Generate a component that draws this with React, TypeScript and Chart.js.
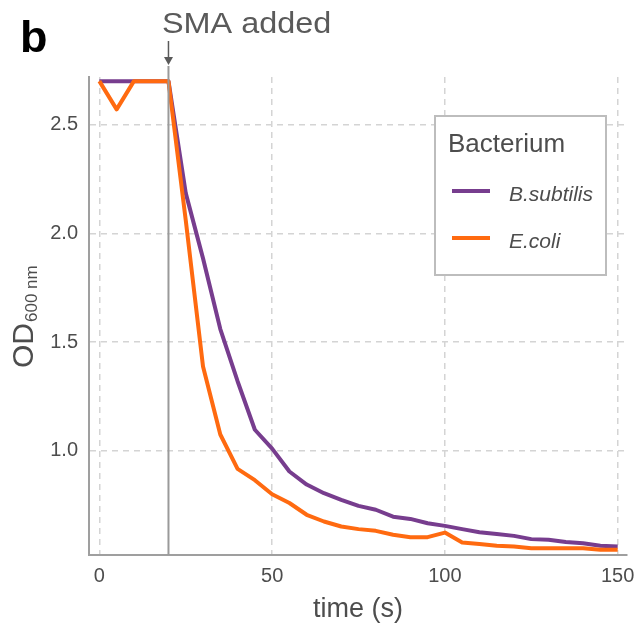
import React, { useEffect, useRef } from "react";
import { Chart, registerables } from "chart.js";

Chart.register(...registerables);

const times = [0, 5, 10, 15, 20, 25, 30, 35, 40, 45, 50, 55, 60, 65, 70, 75, 80, 85, 90, 95, 100, 105, 110, 115, 120, 125, 130, 135, 140, 145, 150];
const bSubtilis = [2.7, 2.7, 2.7, 2.7, 2.7, 2.185, 1.885, 1.56, 1.32, 1.097, 1.01, 0.905, 0.845, 0.805, 0.775, 0.747, 0.729, 0.697, 0.687, 0.667, 0.655, 0.64, 0.626, 0.618, 0.609, 0.594, 0.591, 0.581, 0.575, 0.564, 0.56];
const eColi = [2.7, 2.57, 2.7, 2.7, 2.7, 2.06, 1.388, 1.075, 0.917, 0.865, 0.8, 0.76, 0.706, 0.675, 0.652, 0.64, 0.632, 0.614, 0.603, 0.603, 0.624, 0.578, 0.572, 0.564, 0.56, 0.552, 0.552, 0.552, 0.552, 0.545, 0.545];
const xTicks = [0, 50, 100, 150];
const yTicks = [1.0, 1.5, 2.0, 2.5];
const seriesNames = ["B.subtilis", "E.coli"];
const seriesColors = ["#773d8e", "#ff6a10"];
const smaTime = 20;

const FONT = "'Liberation Sans', Arial, sans-serif";
const TEXT = "#4d4d4d";

const overlay = {
  id: "overlay",
  afterDatasetsDraw(chart: any) {
    const { ctx, chartArea, scales } = chart;
    const x = scales.x.getPixelForValue(smaTime);
    ctx.save();
    ctx.strokeStyle = "#9a9a9a";
    ctx.lineWidth = 2;
    ctx.beginPath();
    ctx.moveTo(x, 66);
    ctx.lineTo(x, chartArea.bottom);
    ctx.stroke();
    ctx.restore();
  },
  afterDraw(chart: any) {
    const { ctx, chartArea, scales } = chart;
    const x = scales.x.getPixelForValue(smaTime);
    ctx.save();
    // panel letter
    ctx.fillStyle = "#000";
    ctx.font = `bold 45px ${FONT}`;
    ctx.textBaseline = "alphabetic";
    ctx.textAlign = "left";
    ctx.fillText("b", 20, 52);
    // SMA added label
    ctx.fillStyle = "#5a5a5a";
    ctx.font = `30px ${FONT}`;
    ctx.save();
    ctx.translate(162, 33);
    ctx.scale(1.08, 1);
    ctx.fillText("SMA added", 0, 0);
    ctx.restore();
    // arrow
    ctx.strokeStyle = "#5a5a5a";
    ctx.lineWidth = 1.5;
    ctx.beginPath();
    ctx.moveTo(x, 41);
    ctx.lineTo(x, 58);
    ctx.stroke();
    ctx.beginPath();
    ctx.moveTo(x - 4.5, 57);
    ctx.lineTo(x + 4.5, 57);
    ctx.lineTo(x, 65);
    ctx.closePath();
    ctx.fill();
    // x axis title
    ctx.fillStyle = TEXT;
    ctx.font = `27px ${FONT}`;
    ctx.textAlign = "center";
    ctx.fillText("time (s)", (chartArea.left + chartArea.right) / 2, 617);
    // y axis title with subscript
    ctx.save();
    ctx.translate(33, 368);
    ctx.rotate(-Math.PI / 2);
    ctx.textAlign = "left";
    ctx.font = `30px ${FONT}`;
    ctx.fillText("OD", 0, 0);
    const w = ctx.measureText("OD").width;
    ctx.font = `17px ${FONT}`;
    ctx.fillText("600 nm", w + 1, 4);
    ctx.restore();
    // legend
    ctx.fillStyle = "#fff";
    ctx.fillRect(435, 116, 171, 159);
    ctx.strokeStyle = "#bdbdbd";
    ctx.lineWidth = 2;
    ctx.strokeRect(435, 116, 171, 159);
    ctx.fillStyle = TEXT;
    ctx.textAlign = "left";
    ctx.font = `26px ${FONT}`;
    ctx.fillText("Bacterium", 448, 152);
    const rows = [191, 238];
    seriesNames.forEach((name, i) => {
      ctx.strokeStyle = seriesColors[i];
      ctx.lineWidth = 4;
      ctx.beginPath();
      ctx.moveTo(452, rows[i]);
      ctx.lineTo(490, rows[i]);
      ctx.stroke();
      ctx.fillStyle = TEXT;
      ctx.font = `italic 21px ${FONT}`;
      ctx.fillText(name, 509, rows[i] + 10);
    });
    ctx.restore();
  },
};

export default function App() {
  const ref = useRef<HTMLCanvasElement | null>(null);
  useEffect(() => {
    document.body.style.margin = "0";
    const canvas = ref.current;
    if (!canvas) return;
    const chart = new Chart(canvas, {
      type: "line",
      data: {
        datasets: [
          {
            label: seriesNames[0],
            data: times.map((t, i) => ({ x: t, y: bSubtilis[i] })),
            borderColor: seriesColors[0],
            borderWidth: 4,
            pointRadius: 0,
            tension: 0,
            order: 1,
            borderJoinStyle: "round",
          },
          {
            label: seriesNames[1],
            data: times.map((t, i) => ({ x: t, y: eColi[i] })),
            borderColor: seriesColors[1],
            borderWidth: 4,
            pointRadius: 0,
            tension: 0,
            order: 0,
            borderJoinStyle: "round",
          },
        ],
      },
      options: {
        animation: false,
        responsive: false,
        events: [],
        layout: { padding: { left: 0, top: 77, right: 10, bottom: 0 } },
        plugins: { legend: { display: false }, tooltip: { enabled: false } },
        scales: {
          x: {
            type: "linear",
            min: -3,
            max: 152.7,
            afterBuildTicks: (s: any) => {
              s.ticks = xTicks.map((v) => ({ value: v }));
            },
            afterFit: (s: any) => {
              s.height = 76;
              s.paddingLeft = 0;
              s.paddingRight = 0;
            },
            grid: { color: "#d4d4d4", lineWidth: 1.5, drawTicks: false },
            border: { display: true, color: "#9f9f9f", width: 2, dash: [6, 5] },
            ticks: {
              color: TEXT,
              padding: 9,
              font: { family: FONT, size: 20 },
              maxRotation: 0,
              callback: (v: any) => String(v),
            },
          },
          y: {
            type: "linear",
            min: 0.521,
            max: 2.719,
            afterBuildTicks: (s: any) => {
              s.ticks = yTicks.map((v) => ({ value: v }));
            },
            afterFit: (s: any) => {
              s.width = 89;
              s.paddingTop = 0;
              s.paddingBottom = 0;
            },
            grid: { color: "#d4d4d4", lineWidth: 1.5, drawTicks: false },
            border: { display: true, color: "#9f9f9f", width: 2, dash: [6, 5] },
            ticks: {
              color: TEXT,
              padding: 11,
              font: { family: FONT, size: 20 },
              callback: (v: any) => Number(v).toFixed(1),
            },
          },
        },
      },
      plugins: [overlay],
    });
    return () => chart.destroy();
  }, []);
  return (
    <div style={{ width: 637, height: 631, position: "relative" }}>
      <canvas ref={ref} width={637} height={631} style={{ display: "block" }} />
    </div>
  );
}
